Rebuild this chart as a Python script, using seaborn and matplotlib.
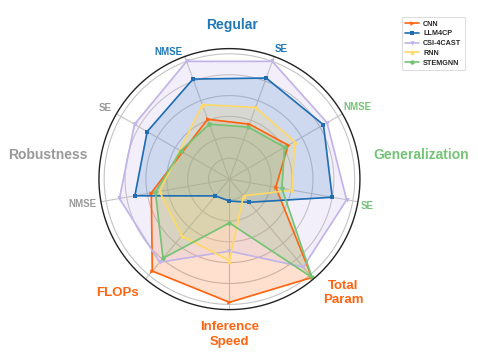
import numpy as np
import matplotlib
matplotlib.use('Agg')
import matplotlib.pyplot as plt
import seaborn as sns

# Axes (clockwise from top-left) and model scores
axes_names = ['Regular NMSE', 'Regular SE', 'Gen NMSE', 'Gen SE', 'Total Param',
              'Inference Speed', 'FLOPs', 'Robust NMSE', 'Robust SE']
models = ['CNN', 'LLM4CP', 'CSI-4CAST', 'RNN', 'STEMGNN']
cnn = [0.61, 0.56, 0.65, 0.45, 1.23, 1.18, 1.15, 0.76, 0.52]
llm4cp = [1.02, 1.03, 1.04, 1.00, 0.29, 0.21, 0.21, 0.92, 0.91]
csi4cast = [1.20, 1.20, 1.08, 1.14, 1.10, 0.69, 1.04, 1.07, 1.05]
rnn = [0.76, 0.73, 0.72, 0.61, 0.21, 0.78, 0.71, 0.68, 0.55]
stemgnn = [0.56, 0.53, 0.61, 0.51, 1.23, 0.42, 0.99, 0.72, 0.54]

colors = ['#ff6410', '#1f6eb4', '#c2b3e8', '#ffd966', '#74c476']
markers = ['>', 's', 'v', '^', 'o']

# axis labels: text, colour, size, (clock angle deg, radius)
tick_texts = ['NMSE', 'SE', 'NMSE', 'SE', 'Total\nParam', 'Inference\nSpeed', 'FLOPs', 'NMSE', 'SE']
tick_colors = ['#1f77b4', '#1f77b4', '#74c476', '#74c476', '#ff6410', '#ff6410', '#ff6410',
               '#999999', '#999999']
tick_sizes = [7, 7, 7, 7, 9.5, 9.5, 9.5, 7, 7]
tick_pos = [(-25.8, 1.35), (21.6, 1.34), (60.7, 1.41), (101.1, 1.34), (135.1, 1.54),
            (180, 1.49), (224.6, 1.53), (260.4, 1.43), (299.7, 1.37)]

group_texts = ['Regular', 'Generalization', 'Robustness']
group_colors = ['#1f77b4', '#74c476', '#999999']
group_pos = [(0.9, 1.48), (82.9, 1.85), (277.5, 1.75)]

rings = [0.2, 0.4, 0.6, 0.8, 1.0, 1.2]
r_max = 1.25

sns.set_theme(style='white')
plt.rcParams['font.family'] = ['Liberation Sans', 'DejaVu Sans']

n = len(axes_names)
angles = np.linspace(0, 2 * np.pi, n, endpoint=False)
offset = np.deg2rad(20)
circle = np.linspace(0, 2 * np.pi, 361)

fig = plt.figure(figsize=(4.78, 3.6), dpi=100)
ax = fig.add_axes([0.207, 0.140, 0.546, 0.725], projection='polar')
ax.set_theta_offset(np.pi / 2 + offset)
ax.set_theta_direction(-1)

# rings and outer frame drawn as plain lines
for r in rings:
    ax.plot(circle, np.full_like(circle, r), color='#c4c4c4', linewidth=0.8, zorder=1)
ax.plot(circle, np.full_like(circle, r_max), color='#222222', linewidth=1.0, zorder=4,
        clip_on=False)

series = [cnn, llm4cp, csi4cast, rnn, stemgnn]
for name, vals, c, m in zip(models, series, colors, markers):
    closed = list(vals) + [vals[0]]
    ang = list(angles) + [angles[0]]
    ax.plot(ang, closed, color=c, marker=m, markersize=3.2, markeredgewidth=0,
            linewidth=1.2, label=name, zorder=3)
    ax.fill(ang, closed, color=c, alpha=0.2, zorder=2)

ax.set_xticks(angles)
ax.set_xticklabels([])
ax.set_xlim(0, 2 * np.pi)
ax.set_ylim(0, r_max)
ax.set_yticks(rings)
ax.set_yticklabels([])
ax.xaxis.grid(True, color='#c4c4c4', linewidth=0.8)
ax.yaxis.grid(False)
ax.set_axisbelow(True)
ax.spines['polar'].set_visible(False)

for txt, c, s, (a, r) in zip(tick_texts, tick_colors, tick_sizes, tick_pos):
    ax.text(np.deg2rad(a) + offset, r, txt, color=c, fontsize=s, fontweight='bold',
            ha='center', va='center', linespacing=1.3, clip_on=False)

for txt, c, (a, r) in zip(group_texts, group_colors, group_pos):
    ax.text(np.deg2rad(a) + offset, r, txt, color=c, fontsize=10, fontweight='bold',
            ha='center', va='center', clip_on=False)

handles, labels = ax.get_legend_handles_labels()
leg = ax.legend(handles[-5:], labels[-5:], loc='upper left', bbox_to_anchor=(0.833, 0.962),
                bbox_transform=fig.transFigure, prop={'size': 5.2, 'weight': 'bold'},
                frameon=True, handlelength=1.9, handletextpad=0.6,
                labelspacing=0.38, borderpad=0.45, fancybox=False)
leg.get_frame().set_edgecolor('#cccccc')
leg.get_frame().set_linewidth(0.6)

fig.savefig('out.png', dpi=100)
